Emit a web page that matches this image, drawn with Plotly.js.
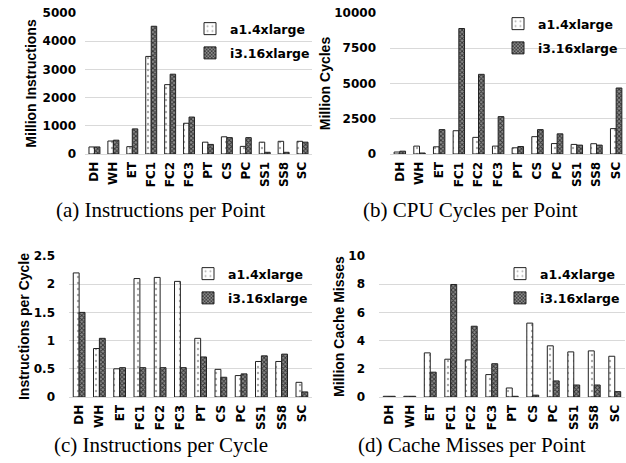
<!DOCTYPE html>
<html><head><meta charset="utf-8">
<script src="https://cdn.plot.ly/plotly-3.0.1.min.js"></script>
<style>html,body{margin:0;padding:0;background:#fff}#chart{width:626px;height:463px}</style>
</head><body><div id="chart"></div>
<script>
const categories = ['DH','WH','ET','FC1','FC2','FC3','PT','CS','PC','SS1','SS8','SC'];
const seriesNames = ['a1.4xlarge','i3.16xlarge'];

const instrA1 = [250, 460, 260, 3460, 2460, 1090, 420, 610, 270, 420, 450, 450];
const instrI3 = [250, 490, 890, 4530, 2830, 1310, 340, 580, 580, 60, 60, 420];

const cyclesA1 = [140, 560, 510, 1650, 1180, 560, 440, 1230, 740, 680, 730, 1800];
const cyclesI3 = [200, 70, 1730, 8900, 5650, 2650, 530, 1730, 1430, 630, 630, 4680];

const ipcA1 = [2.2, 0.86, 0.5, 2.1, 2.12, 2.05, 1.04, 0.49, 0.38, 0.63, 0.63, 0.26];
const ipcI3 = [1.5, 1.04, 0.52, 0.52, 0.52, 0.52, 0.71, 0.35, 0.41, 0.73, 0.76, 0.09];

const missA1 = [0.05, 0.05, 3.13, 2.68, 2.63, 1.59, 0.64, 5.24, 3.63, 3.2, 3.27, 2.89];
const missI3 = [0.05, 0.05, 1.76, 7.98, 5.02, 2.36, 0.05, 0.13, 1.14, 0.85, 0.85, 0.38];

const captions = ['(a) Instructions per Point', '(b) CPU Cycles per Point',
                  '(c) Instructions per Cycle', '(d) Cache Misses per Point'];
const yTitles = ['Million Instructions', 'Million Cycles', 'Instructions per Cycle', 'Million Cache Misses'];

const W = 626, H = 463;
const px = v => v / W;
const py = v => 1 - v / H;

const styleA1 = {color:'#ffffff', line:{color:'#222', width:1},
  pattern:{shape:'.', fgcolor:'#aaaaaa', size:6, solidity:0.12}};
const styleI3 = {color:'#7a7a7a', line:{color:'#222', width:1},
  pattern:{shape:'x', fgcolor:'#333333', bgcolor:'#8c8c8c', size:3, solidity:0.5}};

const panels = [
  {a: instrA1, b: instrI3, xa:'x', ya:'y', lg:'legend'},
  {a: cyclesA1, b: cyclesI3, xa:'x2', ya:'y2', lg:'legend2'},
  {a: ipcA1, b: ipcI3, xa:'x3', ya:'y3', lg:'legend3'},
  {a: missA1, b: missI3, xa:'x4', ya:'y4', lg:'legend4'}
];

const traces = [];
panels.forEach(p => {
  traces.push({type:'bar', x:categories, y:p.a, name:seriesNames[0], xaxis:p.xa, yaxis:p.ya,
    legend:p.lg, legendgroup:'a', marker:styleA1});
  traces.push({type:'bar', x:categories, y:p.b, name:seriesNames[1], xaxis:p.xa, yaxis:p.ya,
    legend:p.lg, legendgroup:'b', marker:styleI3});
});

const tickFont = {family:'DejaVu Sans', size:12, color:'#000', weight:700};
const titleFont = {family:'Liberation Sans', size:14, color:'#000', weight:700};
const legFont = {family:'DejaVu Sans', size:12.5, color:'#000', weight:700};

function xAxis(d0, d1, anchor) {
  return {domain:[px(d0), px(d1)], anchor:anchor, type:'category', tickangle:-90,
    tickfont:tickFont, showgrid:false, showline:true, linecolor:'#d9d9d9', linewidth:1,
    ticks:'', fixedrange:true, ticklabelstandoff:2};
}
function yAxis(top, bottom, anchor, range, dtick, title, standoff, tstand) {
  return {domain:[py(bottom), py(top)], anchor:anchor, range:range, dtick:dtick,
    tickfont:tickFont, showgrid:true, gridcolor:'#d9d9d9', gridwidth:1, zeroline:false,
    showline:false, ticks:'', ticklabelstandoff:standoff, exponentformat:'none',
    separatethousands:false, tickformat: dtick >= 1 ? 'd' : '',
    title:{text:title, font:titleFont, standoff:tstand}};
}
function legendAt(x, y) {
  return {x:px(x), y:py(y), xanchor:'left', yanchor:'top', bgcolor:'rgba(0,0,0,0)',
    font:legFont, itemwidth:30, tracegroupgap:5};
}

const layout = {
  width:W, height:H, margin:{l:0, r:0, t:0, b:0},
  paper_bgcolor:'#fff', plot_bgcolor:'#fff',
  barmode:'group', bargap:0.42, bargroupgap:0,
  showlegend:true,
  xaxis: xAxis(85, 312, 'y'),
  yaxis: yAxis(13, 154, 'x', [0,5000], 1000, yTitles[0], 8, 2),
  xaxis2: xAxis(390, 626, 'y2'),
  yaxis2: yAxis(13, 154, 'x2', [0,10000], 2500, yTitles[1], 13, 0),
  xaxis3: xAxis(69, 312, 'y3'),
  yaxis3: yAxis(256, 397, 'x3', [0,2.5], 0.5, yTitles[2], 13, 0),
  xaxis4: xAxis(379, 625, 'y4'),
  yaxis4: yAxis(256, 397, 'x4', [0,10], 2, yTitles[3], 13, 0),
  legend: legendAt(190, 14),
  legend2: legendAt(498, 9),
  legend3: legendAt(188, 259),
  legend4: legendAt(500, 259),
  annotations: [
    [161, 210], [471, 210], [161, 445], [472, 445]
  ].map((c, i) => ({text:captions[i], xref:'paper', yref:'paper', x:px(c[0]), y:py(c[1]),
      xanchor:'center', yanchor:'middle', showarrow:false,
      font:{family:'Liberation Serif', size:21, color:'#000'}}))
};

Plotly.newPlot('chart', traces, layout, {staticPlot:true, displayModeBar:false});
</script></body></html>
